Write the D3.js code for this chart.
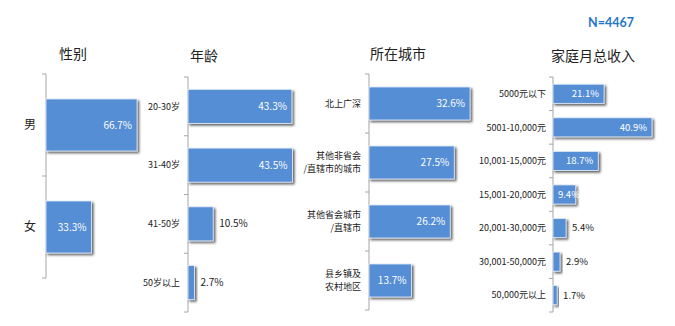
<!DOCTYPE html>
<html lang="zh">
<head>
  <meta charset="UTF-8">
  <title>样本构成 N=4467</title>
  <style>
    body { margin: 0; background: #fff; }
    svg { display: block; font-family: "Noto Sans CJK SC", "Noto Sans", sans-serif; }
    .axis path, .axis line { stroke: #a6a6a6; }
    .bar { fill: #558ed5; stroke: #e6eef9; stroke-width: 0.8; }
  </style>
</head>
<body>
  <script src="https://d3js.org/d3.v7.min.js"></script>
  <script>
    const genderCats = ["男", "女"];
    const genderVals = [66.7, 33.3];

    const ageCats = ["20-30岁", "31-40岁", "41-50岁", "50岁以上"];
    const ageVals = [43.3, 43.5, 10.5, 2.7];

    const cityCats = ["北上广深", "其他非省会\n/直辖市的城市", "其他省会城市\n/直辖市", "县乡镇及\n农村地区"];
    const cityVals = [32.6, 27.5, 26.2, 13.7];

    const incomeCats = ["5000元以下", "5001-10,000元", "10,001-15,000元", "15,001-20,000元",
                        "20,001-30,000元", "30,001-50,000元", "50,000元以上"];
    const incomeVals = [21.1, 40.9, 18.7, 9.4, 5.4, 2.9, 1.7];

    const width = 675, height = 326;
    const svg = d3.select("body").append("svg").attr("width", width).attr("height", height);

    const defs = svg.append("defs");
    defs.append("filter").attr("id", "shadow")
      .attr("x", "-20%").attr("y", "-20%").attr("width", "160%").attr("height", "160%")
      .append("feDropShadow")
      .attr("dx", 1.8).attr("dy", 1.8).attr("stdDeviation", 0.9)
      .attr("flood-color", "#333").attr("flood-opacity", 0.75);

    // one panel per question
    const panels = [
      { title: "性别", cats: genderCats, vals: genderVals, x0: 46, y0: 74, y1: 278, pxPer: 1.365,
        pad: 0.49, titleX: 73, titleY: 59, labelSize: 12, labelX: 30, minInside: 20, valSize: 10, anchorLabel: "middle" },
      { title: "年龄", cats: ageCats, vals: ageVals, x0: 188, y0: 77, y1: 312, pxPer: 2.4,
        pad: 0.42, titleX: 204, titleY: 61, labelSize: 9, labelX: 180, minInside: 20, valSize: 10 },
      { title: "所在城市", cats: cityCats, vals: cityVals, x0: 369, y0: 74, y1: 310, pxPer: 3.1,
        pad: 0.44, titleX: 398, titleY: 59, labelSize: 9, labelX: 361, minInside: 10, valSize: 10 },
      { title: "家庭月总收入", cats: incomeCats, vals: incomeVals, x0: 553, y0: 77, y1: 312, pxPer: 2.42,
        pad: 0.43, titleX: 593, titleY: 61, labelSize: 9, labelX: 546, minInside: 9, valSize: 9.5 }
    ];

    panels.forEach(p => {
      const g = svg.append("g");
      const y = d3.scaleBand().domain(p.cats).range([p.y0, p.y1]).paddingInner(p.pad).paddingOuter(p.pad / 2);
      const x = d3.scaleLinear().domain([0, 100]).range([p.x0, p.x0 + 100 * p.pxPer]);

      g.append("text").attr("x", p.titleX).attr("y", p.titleY)
        .attr("text-anchor", "middle").attr("font-size", 14).attr("fill", "#222")
        .text(p.title);

      // axis line with ticks between categories
      const tickYs = p.cats.map((c, i) => p.y0 + i * (p.y1 - p.y0) / p.cats.length).concat([p.y1]);
      const ax = g.append("g").attr("class", "axis");
      ax.append("line").attr("x1", p.x0).attr("x2", p.x0).attr("y1", p.y0).attr("y2", p.y1);
      ax.selectAll("line.tk").data(tickYs).join("line").attr("class", "tk")
        .attr("x1", p.x0 - 4).attr("x2", p.x0).attr("y1", d => d).attr("y2", d => d);

      g.selectAll("rect").data(p.vals).join("rect").attr("class", "bar")
        .attr("filter", "url(#shadow)")
        .attr("x", x(0)).attr("y", (d, i) => y(p.cats[i]))
        .attr("width", d => x(d) - x(0)).attr("height", y.bandwidth());

      // category labels, may wrap on "\n"
      g.selectAll("text.cat").data(p.cats).join("text").attr("class", "cat")
        .attr("text-anchor", p.anchorLabel || "end")
        .attr("font-size", p.labelSize).attr("fill", "#222")
        .each(function (d) {
          const lines = d.split("\n");
          const t = d3.select(this);
          const cy = y(d) + y.bandwidth() / 2;
          const lh = p.labelSize * 1.45;
          lines.forEach((ln, k) => {
            t.append("tspan").attr("x", p.labelX)
              .attr("y", cy + (k - (lines.length - 1) / 2) * lh)
              .attr("dy", "0.35em").text(ln);
          });
        });

      // inside labels never start left of the axis (white overflow is simply lost)
      const labW = d => (d.toFixed(1).length + 1) * p.valSize * 0.55;
      g.selectAll("text.val").data(p.vals).join("text").attr("class", "val")
        .attr("font-size", p.valSize)
        .attr("dy", "0.35em")
        .attr("y", (d, i) => y(p.cats[i]) + y.bandwidth() / 2)
        .attr("x", d => d >= p.minInside ? Math.max(x(d) - 5, x(0) + 6 + labW(d)) : x(d) + 6)
        .attr("text-anchor", d => d >= p.minInside ? "end" : "start")
        .attr("fill", d => d >= p.minInside ? "#fff" : "#222")
        .text(d => d.toFixed(1) + "%");
    });

    svg.append("text").attr("x", 611).attr("y", 27).attr("text-anchor", "middle")
      .attr("font-size", 12.5).attr("font-weight", "bold").attr("fill", "#1f77c9")
      .attr("font-family", "Lato, 'Noto Sans', sans-serif")
      .text("N=4467");
  </script>
</body>
</html>
